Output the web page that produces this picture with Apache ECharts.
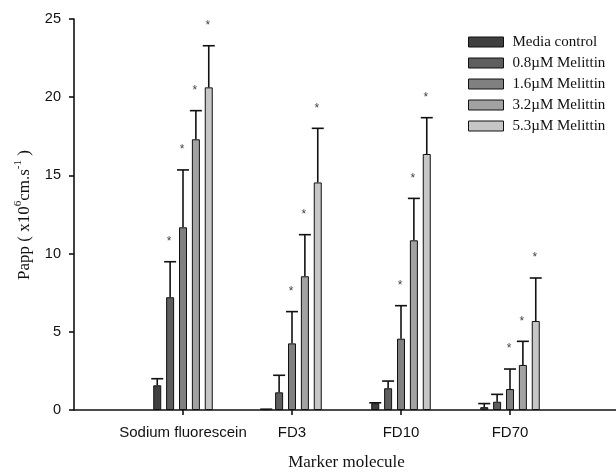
<!DOCTYPE html>
<html>
<head>
<meta charset="utf-8">
<script src="https://cdn.jsdelivr.net/npm/echarts@6/dist/echarts.min.js"></script>
<style>
  html, body { margin: 0; padding: 0; background: #fff; }
  #chart { width: 616px; height: 472px; }
</style>
</head>
<body>
<div id="chart"></div>
<script>
// categories (first and last slots are empty padding on the axis)
const categories = ['', 'Sodium fluorescein', 'FD3', 'FD10', 'FD70', ''];
const seriesNames = ['Media control', '0.8µM Melittin', '1.6µM Melittin', '3.2µM Melittin', '5.3µM Melittin'];
const yTicks = [0, 5, 10, 15, 20, 25];

// mean Papp values per marker molecule
const mediaControl = [1.58, 0.05, 0.43, 0.18];
const melittin08 = [7.21, 1.13, 1.39, 0.53];
const melittin16 = [11.68, 4.26, 4.56, 1.34];
const melittin32 = [17.31, 8.55, 10.85, 2.88];
const melittin53 = [20.63, 14.55, 16.37, 5.69];

// upper error (SD)
const mediaControlErr = [0.42, 0.0, 0.03, 0.23];
const melittin08Err = [2.27, 1.09, 0.46, 0.47];
const melittin16Err = [3.67, 2.03, 2.11, 1.28];
const melittin32Err = [1.83, 2.66, 2.68, 1.51];
const melittin53Err = [2.66, 3.46, 2.32, 2.75];

// significance (*)
const mediaControlSig = [0, 0, 0, 0];
const melittin08Sig = [1, 0, 0, 0];
const melittin16Sig = [1, 1, 1, 1];
const melittin32Sig = [1, 1, 1, 1];
const melittin53Sig = [1, 1, 1, 1];

const values = [mediaControl, melittin08, melittin16, melittin32, melittin53];
const errors = [mediaControlErr, melittin08Err, melittin16Err, melittin32Err, melittin53Err];
const sigs = [mediaControlSig, melittin08Sig, melittin16Sig, melittin32Sig, melittin53Sig];
const colors = ['#404040', '#5e5e5e', '#808080', '#a2a2a2', '#c6c6c6'];

const BAR_W = 8;
const BAR_GAP = 0.61;
const step = BAR_W * (1 + BAR_GAP);
const serif = '"Liberation Serif", "Times New Roman", serif';
const sans = '"Liberation Sans", Arial, sans-serif';

const chart = echarts.init(document.getElementById('chart'));

let series = [];
values.forEach((arr, i) => {
  series.push({
    name: seriesNames[i],
    type: 'bar',
    barWidth: BAR_W,
    barGap: (BAR_GAP * 100) + '%',
    itemStyle: { color: colors[i], borderColor: '#111', borderWidth: 1 },
    data: [null].concat(arr, [null])
  });
});

// error bars (upper whisker) + significance stars
values.forEach((arr, i) => {
  const offset = (i - (values.length - 1) / 2) * step;
  series.push({
    name: 'err' + i,
    type: 'custom',
    z: 3,
    silent: true,
    encode: { x: 0, y: 1 },
    data: arr.map((v, k) => [k + 1, v, errors[i][k], sigs[i][k]]),
    renderItem: function (params, api) {
      const base = api.coord([api.value(0), api.value(1)]);
      const top = api.coord([api.value(0), api.value(1) + api.value(2)]);
      const x = base[0] + offset;
      const children = [
        { type: 'line', shape: { x1: x, y1: base[1], x2: x, y2: top[1] }, style: { stroke: '#111', lineWidth: 1.6 } },
        { type: 'line', shape: { x1: x - 6, y1: top[1], x2: x + 6, y2: top[1] }, style: { stroke: '#111', lineWidth: 1.6 } }
      ];
      if (api.value(3)) {
        children.push({
          type: 'text',
          style: { text: '*', x: x - 1, y: top[1] - 20, align: 'center', verticalAlign: 'middle', font: '12px ' + sans, fill: '#444' }
        });
      }
      return { type: 'group', children: children };
    }
  });
});

const option = {
  animation: false,
  color: colors,
  grid: { left: 74, top: 19, width: 545, height: 391, outerBoundsMode: 'none' },
  legend: {
    data: seriesNames,
    orient: 'vertical',
    left: 468,
    top: 34,
    padding: 0,
    itemWidth: 35,
    itemHeight: 10,
    itemGap: 5,
    icon: 'rect',
    itemStyle: { borderColor: '#111', borderWidth: 1 },
    textStyle: { fontFamily: serif, fontSize: 15, lineHeight: 16, color: '#111', padding: [0, 0, 0, 4] }
  },
  xAxis: {
    type: 'category',
    data: categories,
    boundaryGap: false,
    name: 'Marker molecule',
    nameLocation: 'middle',
    nameGap: 44,
    nameTextStyle: { fontFamily: serif, fontSize: 17, color: '#111' },
    axisLine: { lineStyle: { color: '#111', width: 1.6 } },
    axisTick: { length: 5, lineStyle: { color: '#111', width: 1.6 }, interval: (i) => i > 0 && i < categories.length - 1 },
    axisLabel: { interval: 0, margin: 15, fontFamily: sans, fontSize: 15, color: '#111' },
    splitLine: { show: false }
  },
  yAxis: {
    type: 'value',
    min: yTicks[0],
    max: yTicks[yTicks.length - 1],
    interval: yTicks[1] - yTicks[0],
    axisLine: { show: true, lineStyle: { color: '#111', width: 1.6 } },
    axisTick: { show: true, length: 5, lineStyle: { color: '#111', width: 1.6 } },
    axisLabel: { margin: 13, fontFamily: sans, fontSize: 14.5, color: '#111' },
    splitLine: { show: false }
  },
  graphic: [{
    type: 'text',
    x: 23,
    y: 215,
    rotation: Math.PI / 2,
    style: {
      text: '{a|Papp ( x10}{s|6}{a|cm.s}{s|-1}{a| )}',
      align: 'center',
      verticalAlign: 'middle',
      fill: '#111',
      rich: {
        a: { fontFamily: serif, fontSize: 17, lineHeight: 20, verticalAlign: 'bottom' },
        s: { fontFamily: serif, fontSize: 11, lineHeight: 20, verticalAlign: 'top' }
      }
    }
  }],
  series: series
};

chart.setOption(option);
</script>
</body>
</html>
